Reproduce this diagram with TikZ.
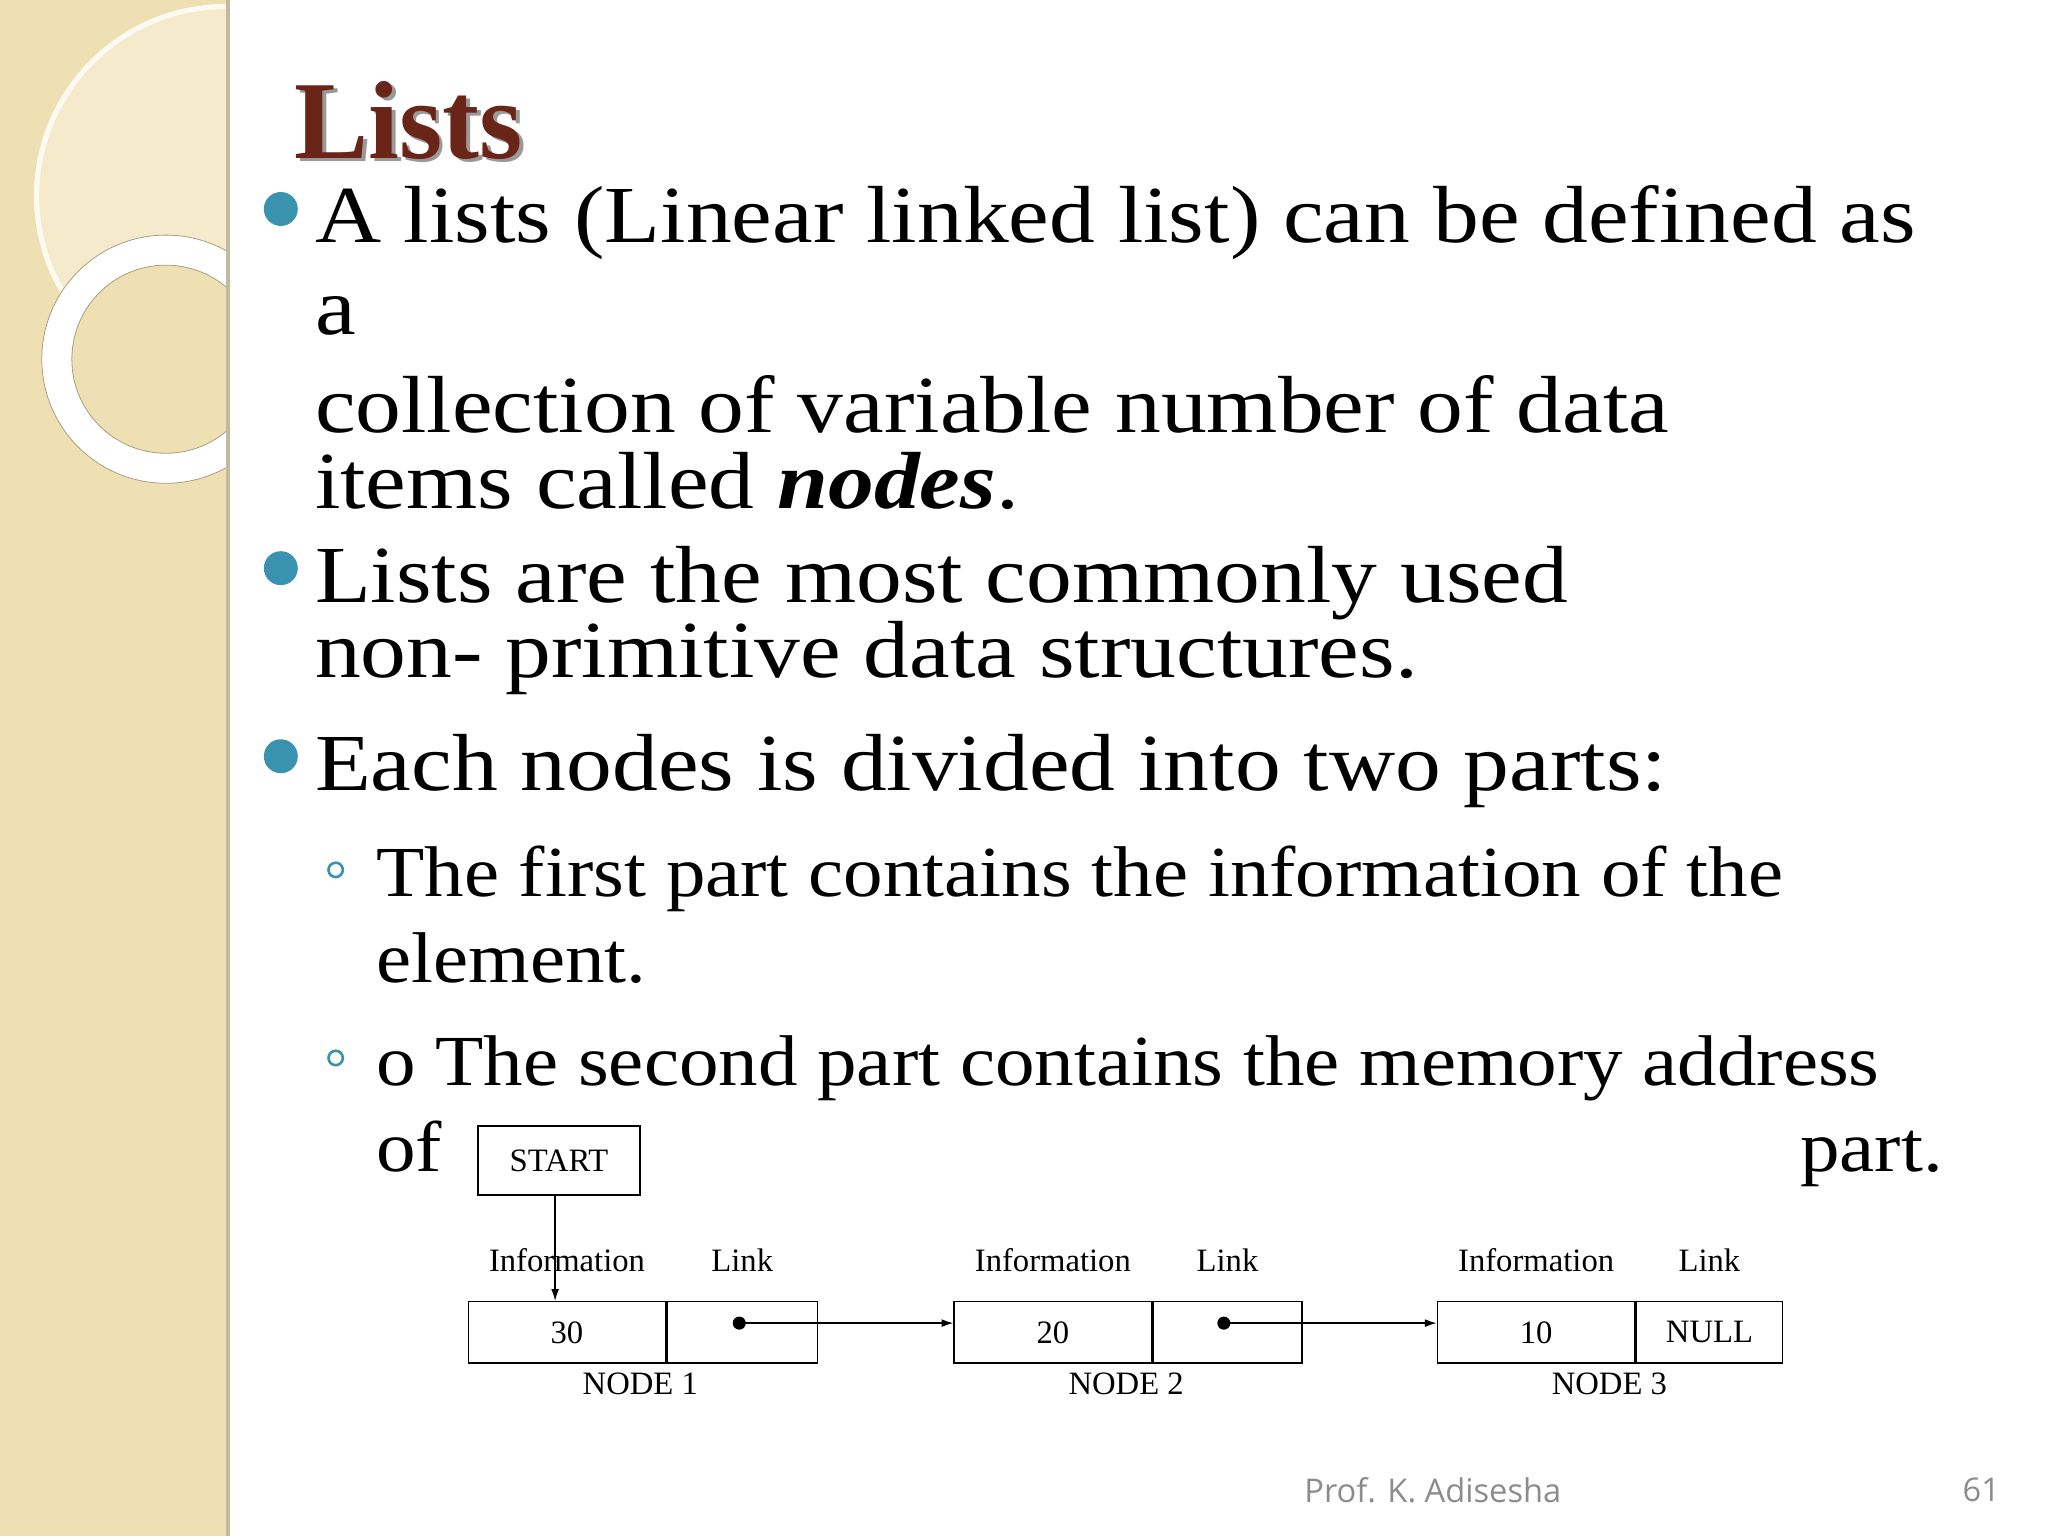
\documentclass[tikz,border=0pt]{standalone}
\usepackage{fontspec}
\usetikzlibrary{calc,arrows.meta}
\setmainfont{Liberation Serif}
\newfontfamily\wideserif[FakeStretch=1.13]{Liberation Serif}
\newfontfamily\subserif[FakeStretch=1.1]{Liberation Serif}
\newfontfamily\footfont{Open Sans}
\begin{document}
\begin{tikzpicture}[x=1pt,y=-1pt,
  body/.style={anchor=base west,inner sep=0pt,font=\wideserif\fontsize{62}{64}\selectfont},
  sub/.style={anchor=base west,inner sep=0pt,font=\subserif\fontsize{55}{58}\selectfont},
  cell/.style={draw,line width=1.2pt,minimum height=47pt,inner sep=0pt,font=\fontsize{25}{27}\selectfont},
  lab/.style={inner sep=0pt,font=\fontsize{25}{27}\selectfont},
  bul/.style={circle,inner sep=0pt,minimum size=26pt},
  sbul/.style={circle,line width=2pt,inner sep=0pt,minimum size=11pt},
  tip/.style={-{Latex[length=9pt,width=6pt]}}]
\definecolor{panel}{HTML}{EFE0B4}
\definecolor{panellight}{HTML}{F5EBCC}
\definecolor{titlered}{HTML}{6B2418}
\definecolor{bulc}{HTML}{3A93AE}
\useasboundingbox (0,0) rectangle (1568,1176);
\fill[white] (0,0) rectangle (1568,1176);
% left panel
\begin{scope}
\clip (0,0) rectangle (173,1176);
\fill[panel] (0,0) rectangle (173,1176);
\fill[panellight] (173,150) circle (145);
\draw[white!85!panel,line width=4pt] (173,150) circle (145);
\fill[white] (127,275) circle (95);
\fill[panel] (127,275) circle (72);
\draw[panel!70!black,line width=0.6pt] (127,275) circle (95);
\draw[panel!70!black,line width=0.6pt] (127,275) circle (72);
\end{scope}
\fill[panel!60!gray] (173,0) rectangle (176,1176);
% title
\node[anchor=base west,inner sep=0pt,font=\fontsize{85}{88}\selectfont\bfseries,text=black!40] (tsh) at (228,124) {Lists};
\node[anchor=base west,inner sep=0pt,font=\fontsize{85}{88}\selectfont\bfseries,text=titlered] (title) at (225,121) {Lists};
% bullets
\node[bul,fill=bulc] (b1) at (215,160) {};
\node[body] (l1) at (241,186) {A lists (Linear linked list) can be defined as};
\node[body] (l2) at (241,256) {a};
\node[body] (l3) at (241,331) {collection of variable number of data};
\node[body] (l4) at (241,389) {items called \textbf{\textit{nodes}}.};
\node[bul,fill=bulc] (b2) at (215,435) {};
\node[body] (l5) at (241,461) {Lists are the most commonly used};
\node[body] (l6) at (241,519) {non- primitive data structures.};
\node[bul,fill=bulc] (b3) at (215,579) {};
\node[body] (l7) at (241,605) {Each nodes is divided into two parts:};
\node[sbul,draw=bulc] (s1) at (257,666) {};
\node[sub] (l8) at (288,686) {The first part contains the information of the};
\node[sub] (l9) at (288,752) {element.};
\node[sbul,draw=bulc] (s2) at (257,810) {};
\node[sub] (l10) at (288,831) {o The second part contains the memory address};
\node[sub] (l11) at (288,897) {of};
\node[sub] (l12) at (1378,897) {part.};
% diagram
\node[draw,line width=1.2pt,minimum width=124pt,minimum height=53pt,inner sep=0pt,font=\fontsize{25}{27}\selectfont] (start) at (428,888.5) {START};
\foreach \n/\x/\v/\w/\t in {1/358/30/115/{},2/730/20/114/{},3/1100/10/112/NULL}{
  \node[cell,anchor=north west,minimum width=151pt] (i\n) at (\x,996) {\v};
  \node[cell,anchor=north west,minimum width=\w pt] (k\n) at (i\n.north east) {\t};
  \node[lab] (il\n) at ($(i\n.north)+(0,-31)$) {Information};
  \node[lab] (kl\n) at ($(k\n.north)+(0,-31)$) {Link};
  \node[lab] (nl\n) at ($(i\n.south east)+(-20,15)$) {NODE \n};
}
\coordinate (d1) at (566,1013);
\coordinate (d2) at (937,1013);
\fill (d1) circle (5);
\fill (d2) circle (5);
\draw[line width=1pt,tip] (start.south -| 425,0) -- (i1.north -| 425,0);
\draw[line width=1.2pt,tip] (d1) -- (d1 -| i2.west);
\draw[line width=1.2pt,tip] (d2) -- (d2 -| i3.west);
% footer
\node[inner sep=0pt,font=\footfont\fontsize{25}{27}\selectfont,text=black!45] (foot) at (1097,1141) {Prof. K. Adisesha};
\node[inner sep=0pt,font=\footfont\fontsize{25}{27}\selectfont,text=black!45] (pg) at (1517,1141) {61};
\end{tikzpicture}
\end{document}
